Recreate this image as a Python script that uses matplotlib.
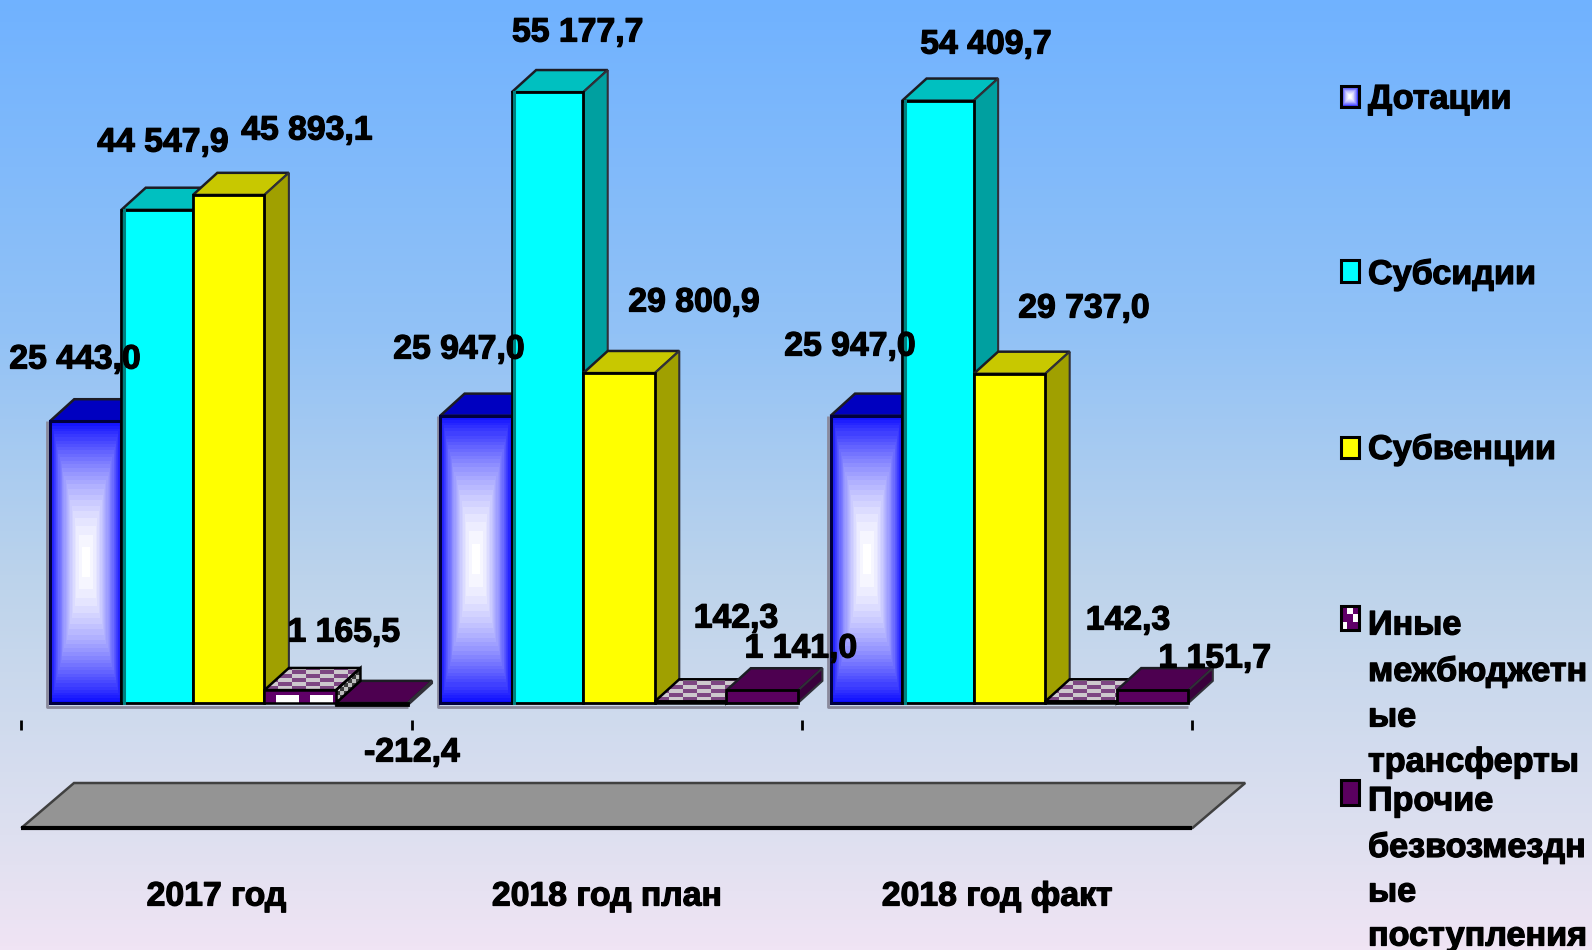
import numpy as np
import matplotlib
matplotlib.use('Agg')
import matplotlib.pyplot as plt
import matplotlib.patheffects as pe
from matplotlib.patches import Polygon, Rectangle

# values
years = ['2017 год', '2018 год план', '2018 год факт']
dotacii = [25443.0, 25947.0, 25947.0]
subsidii = [44547.9, 55177.7, 54409.7]
subvencii = [45893.1, 29800.9, 29737.0]
inye = [1165.5, 142.3, 142.3]
prochie = [-212.4, 1141.0, 1151.7]
series = [dotacii, subsidii, subvencii, inye, prochie]

W, H = 1592, 950
PX_X = 390.4        # pixels for one category
PX_Y = 0.01107      # pixels for one unit of value
X0, Y0 = 21.3, 703  # pixel position of origin
BAR_START = 0.073
BAR_W = 0.1833
DX = 0.0625         # 3d depth, in axis units
DY = 2000

FONT = ['Liberation Sans']
heavy = [pe.withStroke(linewidth=0.9, foreground='black')]


def X(px):
    return (px - X0) / PX_X


def Y(py):
    return (Y0 - py) / PX_Y


fig = plt.figure(figsize=(W / 100, H / 100), dpi=100)
ax = fig.add_axes([0, 0, 1, 1])
ax.axis('off')
xlim = (X(0), X(W))
ylim = (Y(H), Y(0))

# background
stops_y = [0, 0.35, 0.62, 0.88, 1]
r = np.interp(np.linspace(0, 1, 256), stops_y, [112, 146, 190, 222, 240])
g = np.interp(np.linspace(0, 1, 256), stops_y, [178, 194, 212, 224, 228])
b = np.interp(np.linspace(0, 1, 256), stops_y, [255, 246, 235, 240, 244])
bg = np.dstack([r, g, b]).reshape(256, 1, 3) / 255
ax.imshow(bg, extent=(xlim[0], xlim[1], ylim[0], ylim[1]), aspect='auto', zorder=0, origin='upper')


def blue_gradient(x0, x1, y0, y1, z):
    u, v = np.meshgrid(np.linspace(-1, 1, 60), np.linspace(-1, 1, 280))
    t = np.maximum(np.abs(u), np.abs(v)) ** 1.8
    t = np.round(t * 28) / 28
    img = np.dstack([1 - 0.95 * t, 1 - 0.95 * t, np.ones_like(t)])
    ax.imshow(img, extent=(x0, x1, y0, y1), aspect='auto', zorder=z, interpolation='nearest')


def pattern(pts, c1, c2, cw, ch, func, z):
    pts = np.array(pts)
    x0, x1 = pts[:, 0].min(), pts[:, 0].max()
    y0, y1 = pts[:, 1].min(), pts[:, 1].max()
    nc = max(1, int((x1 - x0) * PX_X / cw) + 1)
    nr = max(1, int((y1 - y0) * PX_Y / ch) + 1)
    cc, rr = np.meshgrid(np.arange(nc), np.arange(nr))
    mask = func(cc, rr)
    img = np.where(mask[..., None], np.array(c1), np.array(c2)) / 255
    x2 = x0 + nc * cw / PX_X
    y2 = y0 + nr * ch / PX_Y
    im = ax.imshow(img, extent=(x0, x2, y0, y2), aspect='auto', origin='lower',
                   zorder=z, interpolation='nearest')
    clip = Polygon(pts, closed=True, transform=ax.transData)
    im.set_clip_path(clip)
    ax.add_patch(Polygon(pts, closed=True, fill=False, ec='black', lw=1.8, zorder=z + 0.1))


front = ['#0000ff', '#00ffff', '#ffff00', '#5a005f', '#5a005f']
top = ['#0000c0', '#00c0c0', '#c8c800', '#9a7a9a', '#4d0050']
side = ['#000090', '#00a0a0', '#a0a000', '#808080', '#3a003c']
purple = (125, 70, 130)
grey = (205, 200, 205)
white = (255, 255, 255)
deep = (96, 0, 104)

for g_i in range(3):
    # soft grey rim along the left and bottom of each group
    gx = g_i + BAR_START
    ax.plot([gx - 0.006, gx - 0.006, gx + 5 * BAR_W], [DY * 0 + series[0][g_i], Y(707), Y(707)],
            color='#8a8a9c', lw=2, zorder=2, solid_capstyle='butt')
    for s_i, vals in enumerate(series):
        v = vals[g_i]
        x0 = g_i + BAR_START + s_i * BAR_W
        x1 = x0 + BAR_W
        hi = max(v, 0)
        lo = min(v, 0)
        z = 10 + s_i * 2 if v >= 0 else 5
        top_pts = [(x0, hi), (x1, hi), (x1 + DX, hi + DY), (x0 + DX, hi + DY)]
        side_pts = [(x1, lo), (x1, hi), (x1 + DX, hi + DY), (x1 + DX, lo + DY)]
        if s_i == 3:
            pattern(top_pts, purple, grey, 7, 4, lambda c, r: (c + 2 * r) % 4 < 2, z)
            pattern(side_pts, (60, 60, 60), (190, 190, 190), 4, 4, lambda c, r: (c + r) % 2 == 0, z)
            pattern([(x0, lo), (x1, lo), (x1, hi), (x0, hi)], white, deep, 11.5, 8,
                    lambda c, r: (r == 0) & (c % 3 != 0), z + 0.5)
            continue
        ax.add_patch(Polygon(top_pts, closed=True, fc=top[s_i], ec='#1c1c24', lw=1.8, zorder=z))
        ax.add_patch(Polygon(side_pts, closed=True, fc=side[s_i], ec='#303038', lw=1.5, zorder=z))
        if s_i == 0:
            blue_gradient(x0, x1, lo, hi, z + 0.5)
            ax.add_patch(Rectangle((x0, lo), BAR_W, hi - lo, fill=False, ec='#000040', lw=2.2, zorder=z + 0.6))
        else:
            ax.bar(x0, hi - lo, BAR_W, bottom=lo, align='edge', color=front[s_i], ec='black', lw=2, zorder=z + 0.5)
        if s_i == 1:
            ax.plot([x0 + 0.006, x0 + 0.006], [0, hi], color='#008080', lw=2.2, zorder=z + 0.7)

# ticks
ax.vlines(range(4), Y(730), Y(720), color='black', lw=2, zorder=4)

# floor
back = 0.135
ax.add_patch(Polygon([(0, Y(828)), (3, Y(828)), (3 + back, Y(783)), (back, Y(783))], closed=True,
                     fc='#949494', ec='#404040', lw=1.8, zorder=3))
ax.plot([0, 3], [Y(828), Y(828)], color='black', lw=3, zorder=4, solid_capstyle='butt')

# category labels
for i, name in enumerate(years):
    ax.text(i + 0.5, Y(897), name, ha='center', va='center', fontsize=24.3, fontweight='bold',
            family=FONT, color='black', zorder=40, path_effects=heavy)

# data labels (centres, pixels of reference)
label_x = [[75, 163, 307, 344, 412], [459, 578, 694, 736, 801], [850, 986, 1084, 1128, 1215]]
label_y = [[360, 143, 131, 633, 753], [350, 33, 303, 619, 649], [347, 45, 309, 621, 659]]
for g_i in range(3):
    for s_i, vals in enumerate(series):
        txt = f'{vals[g_i]:,.1f}'.replace(',', ' ').replace('.', ',')
        ax.text(X(label_x[g_i][s_i]), Y(label_y[g_i][s_i]), txt, ha='center', va='center', fontsize=24.3,
                fontweight='bold', family=FONT, color='black', zorder=40, path_effects=heavy)

# legend
key_y = [(86, 107), (260, 282), (437, 458), (606, 630), (780, 805)]
for i, (a, b_) in enumerate(key_y):
    kx0, kx1 = X(1341), X(1359)
    ky0, ky1 = Y(b_), Y(a)
    if i == 0:
        blue_gradient(kx0, kx1, ky0, ky1, 30)
    elif i == 3:
        pattern([(kx0, ky0), (kx1, ky0), (kx1, ky1), (kx0, ky1)], white, deep, 6, 8,
                lambda c, r: (c + r) % 3 == 0, 30)
    else:
        ax.add_patch(Rectangle((kx0, ky0), kx1 - kx0, ky1 - ky0, fc=front[i], ec='none', zorder=30))
    ax.add_patch(Rectangle((kx0, ky0), kx1 - kx0, ky1 - ky0, fill=False, ec='black', lw=2.2, zorder=31))

legend_lines = [('Дотации', 100), ('Субсидии', 275), ('Субвенции', 450), ('Иные', 626),
                ('межбюджетн', 672), ('ые', 718), ('трансферты', 763), ('Прочие', 802),
                ('безвозмездн', 848), ('ые', 893), ('поступления', 937)]
for txt, py in legend_lines:
    ax.text(X(1368), Y(py), txt, ha='left', va='center', fontsize=24.6, fontweight='bold',
            family=FONT, color='black', zorder=40, path_effects=heavy)

ax.set_xlim(xlim)
ax.set_ylim(ylim)
fig.savefig('out.png', dpi=100)
